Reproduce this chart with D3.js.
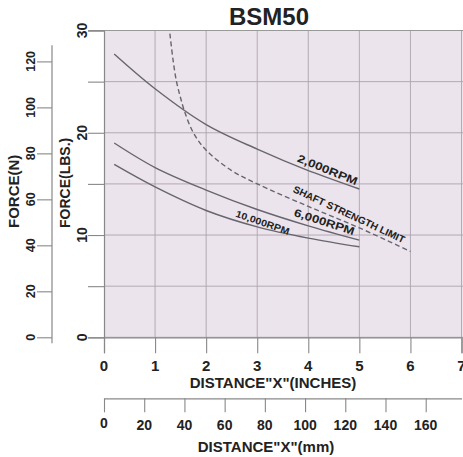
<!DOCTYPE html>
<html>
<head>
<meta charset="utf-8">
<script src="https://cdn.jsdelivr.net/npm/d3@7"></script>
<style>
  body { margin: 0; background: #fff; }
  svg { display: block; }
  text { font-family: "Liberation Sans", Arial, sans-serif; font-weight: bold; fill: #222; }
</style>
</head>
<body>
<div id="chart"></div>
<script>
// values (inches, lbs)
const rpm2000 = [[0.2, 27.7], [1, 24.3], [2, 20.8], [3, 18.4], [4, 16.3], [5, 14.5]];
const rpm6000 = [[0.2, 19.0], [1, 16.6], [2, 14.4], [3, 12.5], [4, 10.9], [5, 9.5]];
const rpm10000 = [[0.2, 16.9], [1, 14.7], [2, 12.4], [3, 10.8], [4, 9.7], [5, 8.85]];
const shaftLimit = [[1.29, 29.7], [1.35, 27.2], [1.42, 25.0], [1.5, 23.4], [1.58, 22.05], [1.75, 20.0], [2, 18.3], [2.5, 16.3], [3, 15.0], [4, 12.8], [5, 10.7], [6, 8.4]];

const inchTicks = [0, 1, 2, 3, 4, 5, 6, 7];
const mmTicks = [0, 20, 40, 60, 80, 100, 120, 140, 160];
const lbsTicks = [0, 10, 20, 30];
const lbsGrid = [0, 5, 10, 15, 20, 25, 30];
const nTicks = [0, 20, 40, 60, 80, 100, 120];

// curve labels: text, position in data units, angle
const curveLabels = [
  { text: "2,000RPM", x: 4.37, y: 16.3, angle: 22, len: 64, size: 11 },
  { text: "SHAFT STRENGTH LIMIT", x: 4.79, y: 11.95, angle: 25, len: 122, size: 10 },
  { text: "6,000RPM", x: 4.31, y: 11.2, angle: 18, len: 63, size: 11 },
  { text: "10,000RPM", x: 3.1, y: 11.15, angle: 19, len: 56, size: 9.5 }
];

const width = 463, height = 457;
const svg = d3.select("#chart").append("svg")
  .attr("width", width)
  .attr("height", height);

const x = d3.scaleLinear().domain([0, 7]).range([104, 461.5]);
const y = d3.scaleLinear().domain([0, 30]).range([337.3, 30.5]);
const yN = d3.scaleLinear().domain([0, 30 * 4.448]).range([337.3, 30.5]);
const xMm = d3.scaleLinear().domain([0, 7 * 25.4]).range([104, 461.5]);

// plot background
svg.append("rect")
  .attr("x", x(0)).attr("y", y(30))
  .attr("width", width - x(0)).attr("height", y(0) - y(30))
  .attr("fill", "#ece4ec");

// grid
svg.append("g").selectAll("line").data(inchTicks.slice(1)).join("line")
  .attr("x1", d => x(d)).attr("x2", d => x(d))
  .attr("y1", y(30)).attr("y2", y(0))
  .attr("stroke", "#ada4ad").attr("stroke-width", 0.9);
svg.append("g").selectAll("line").data(lbsGrid).join("line")
  .attr("x1", x(0)).attr("x2", width)
  .attr("y1", d => y(d)).attr("y2", d => y(d))
  .attr("stroke", "#ada4ad").attr("stroke-width", 0.9);

// top border
svg.append("line")
  .attr("x1", 88).attr("x2", width)
  .attr("y1", y(30)).attr("y2", y(30))
  .attr("stroke", "#999").attr("stroke-width", 1.2);

// lbs axis
const lbsAxis = d3.axisLeft(y).tickValues(lbsGrid).tickSize(16).tickFormat("");
const gL = svg.append("g").attr("transform", `translate(${x(0)},0)`).call(lbsAxis);
gL.select(".domain").attr("stroke", "#888").attr("stroke-width", 1.2);
gL.selectAll(".tick line").attr("stroke", "#888").attr("stroke-width", 1.1);
svg.append("g").selectAll("text").data(lbsTicks).join("text")
  .attr("transform", d => `translate(87,${y(d)}) rotate(-90)`)
  .attr("text-anchor", "middle")
  .style("font-size", "14px")
  .text(d => d);

// N axis
const nAxis = d3.axisLeft(yN).tickValues(nTicks).tickSize(15).tickFormat("");
const gN = svg.append("g").attr("transform", "translate(52,0)").call(nAxis);
gN.select(".domain").attr("d", `M0,${yN(127)}V${yN(0) + 6}`).attr("stroke", "#888").attr("stroke-width", 1.2);
gN.selectAll(".tick line").attr("stroke", "#888").attr("stroke-width", 1.1);
svg.append("g").selectAll("text").data(nTicks).join("text")
  .attr("transform", d => `translate(35,${yN(d)}) rotate(-90)`)
  .attr("text-anchor", "middle")
  .style("font-size", "12.5px")
  .text(d => d);

svg.append("text")
  .attr("transform", "translate(18.5,228) rotate(-90)")
  .style("font-size", "15px")
  .text("FORCE(N)");
svg.append("text")
  .attr("transform", "translate(70,228) rotate(-90)")
  .style("font-size", "14px")
  .text("FORCE(LBS.)");

// inch axis
const xAxis = d3.axisBottom(x).tickValues(inchTicks).tickSize(16).tickFormat("");
const gX = svg.append("g").attr("transform", `translate(0,${y(0)})`).call(xAxis);
gX.select(".domain").attr("stroke", "#888").attr("stroke-width", 1.2);
gX.selectAll(".tick line").attr("stroke", "#888").attr("stroke-width", 1.1);
svg.append("g").selectAll("text").data(inchTicks).join("text")
  .attr("x", d => x(d)).attr("y", 370.5)
  .attr("text-anchor", "middle")
  .style("font-size", "15px")
  .text(d => d);
svg.append("text")
  .attr("x", 273).attr("y", 388)
  .attr("text-anchor", "middle")
  .style("font-size", "15px")
  .text('DISTANCE"X"(INCHES)');

// mm axis
const mmAxis = d3.axisBottom(xMm).tickValues(mmTicks).tickSize(14).tickFormat("").tickSizeOuter(0);
const gM = svg.append("g").attr("transform", "translate(0,398.3)").call(mmAxis);
gM.select(".domain").attr("stroke", "#888").attr("stroke-width", 1.2);
gM.selectAll(".tick line").attr("stroke", "#888").attr("stroke-width", 1.1);
svg.append("g").selectAll("text").data(mmTicks).join("text")
  .attr("x", d => xMm(d)).attr("y", d => d === 0 ? 428 : 430)
  .attr("text-anchor", "middle")
  .style("font-size", "14px")
  .text(d => d);
svg.append("text")
  .attr("x", 266).attr("y", 452)
  .attr("text-anchor", "middle")
  .style("font-size", "15px")
  .text('DISTANCE"X"(mm)');

// title
svg.append("text")
  .attr("x", 269).attr("y", 25)
  .attr("text-anchor", "middle")
  .style("font-size", "24px")
  .text("BSM50");

// curves
const line = d3.line()
  .x(d => x(d[0]))
  .y(d => y(d[1]))
  .curve(d3.curveCatmullRom.alpha(0.5));

[rpm2000, rpm6000, rpm10000].forEach(s => {
  svg.append("path")
    .attr("d", line(s))
    .attr("fill", "none")
    .attr("stroke", "#67656f")
    .attr("stroke-width", 1.4);
});

svg.append("path")
  .attr("d", line(shaftLimit))
  .attr("fill", "none")
  .attr("stroke", "#67656f")
  .attr("stroke-width", 1.4)
  .attr("stroke-dasharray", "5,3");

// curve labels
svg.append("g").selectAll("text").data(curveLabels).join("text")
  .attr("transform", d => `translate(${x(d.x)},${y(d.y)}) rotate(${d.angle})`)
  .attr("text-anchor", "middle")
  .attr("dominant-baseline", "middle")
  .attr("textLength", d => d.len)
  .attr("lengthAdjust", "spacingAndGlyphs")
  .style("font-size", d => d.size + "px")
  .text(d => d.text);
</script>
</body>
</html>
